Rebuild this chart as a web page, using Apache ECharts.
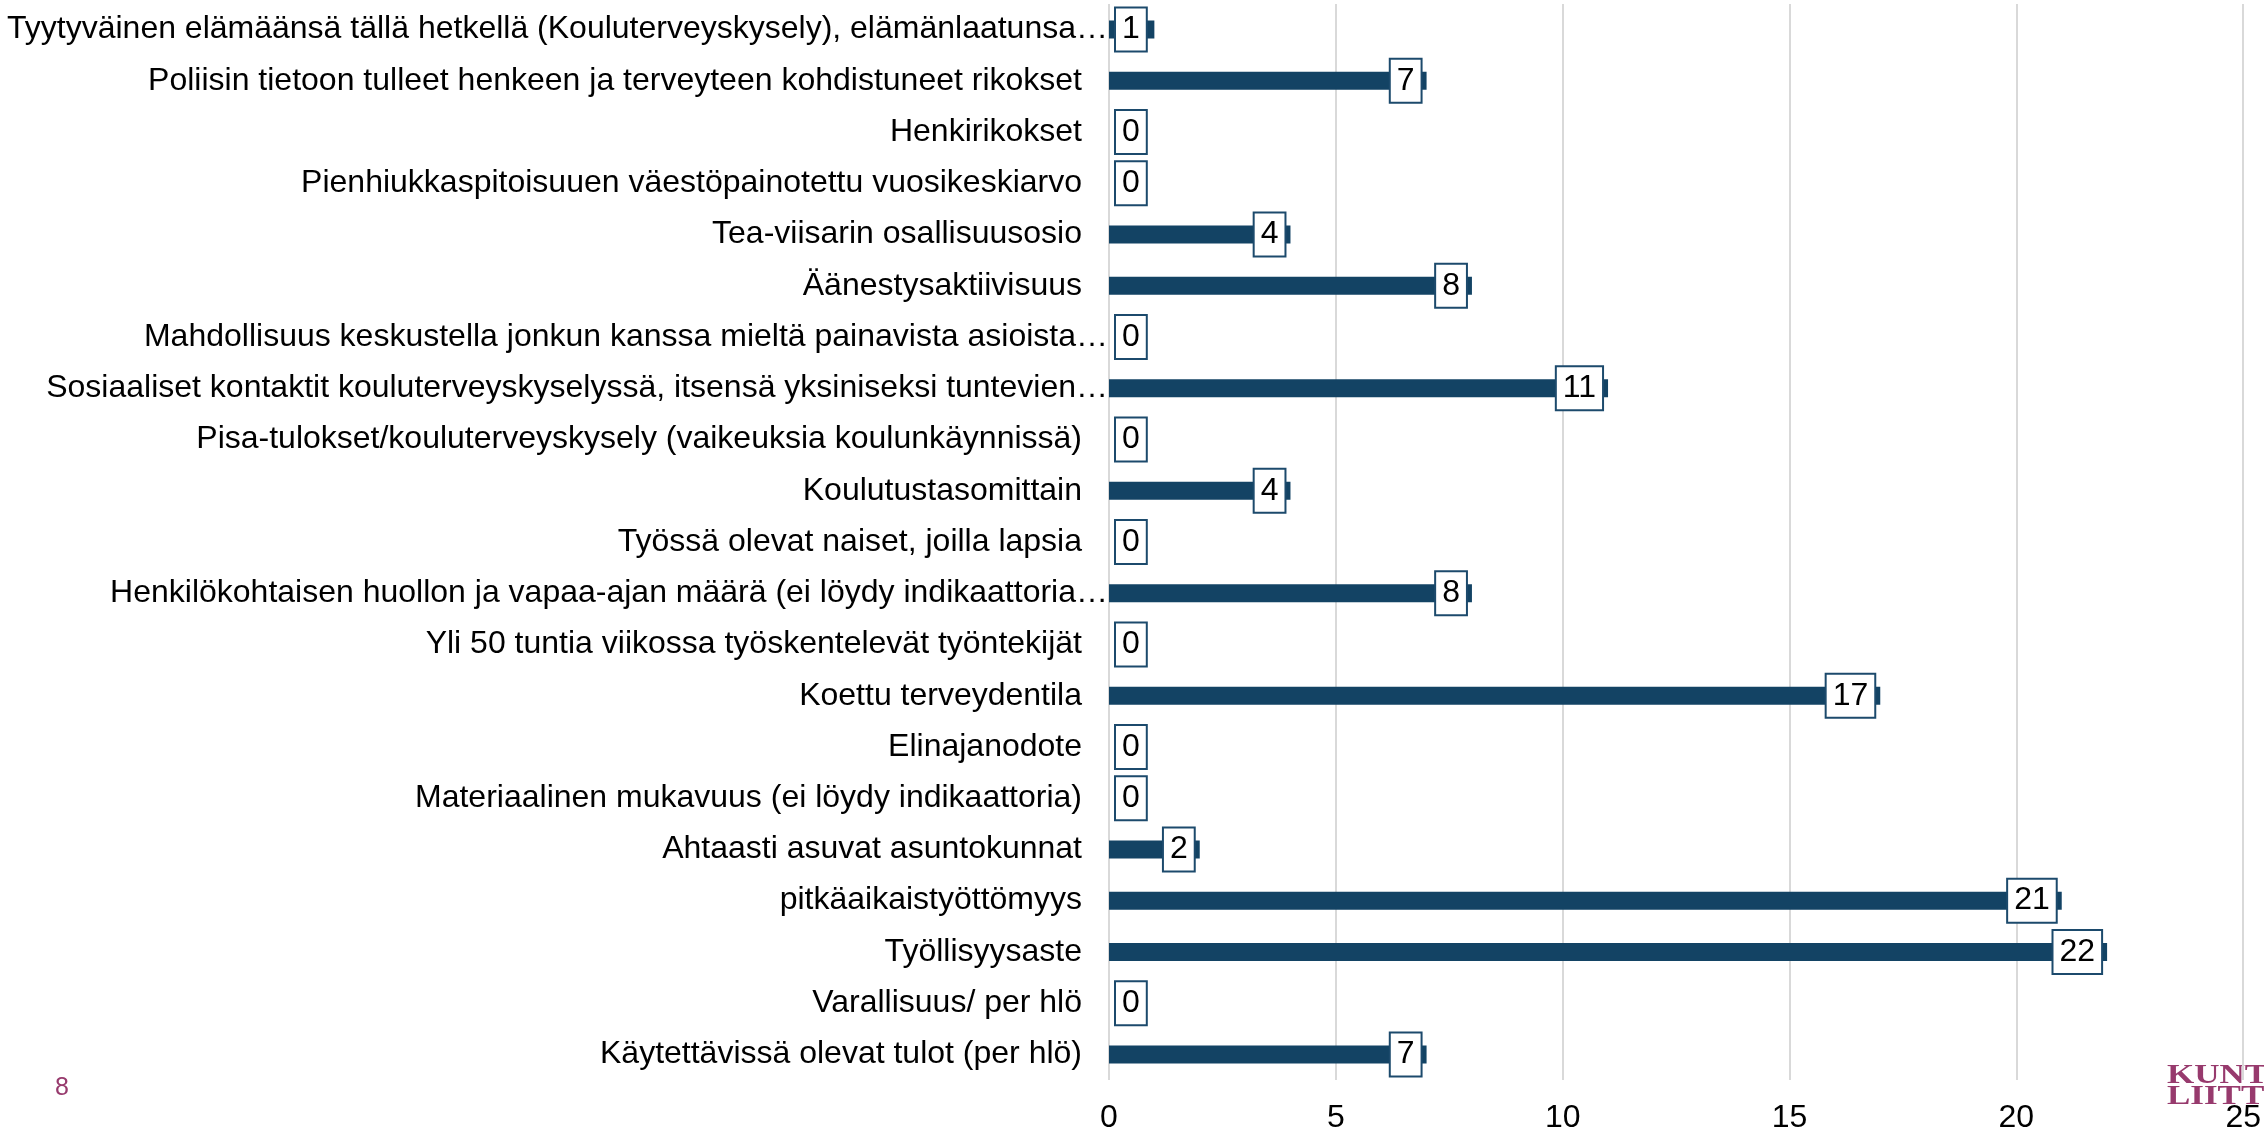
<!DOCTYPE html>
<html>
<head>
<meta charset="utf-8">
<script src="https://cdn.jsdelivr.net/npm/echarts@6/dist/echarts.min.js"></script>
<style>
html,body{margin:0;padding:0;background:#fff;}
#chart{width:2264px;height:1134px;}
</style>
</head>
<body>
<div id="chart"></div>
<script>
const categories = [
  "Tyytyväinen elämäänsä tällä hetkellä (Kouluterveyskysely), elämänlaatunsa…",
  "Poliisin tietoon tulleet henkeen ja terveyteen kohdistuneet rikokset",
  "Henkirikokset",
  "Pienhiukkaspitoisuuen väestöpainotettu vuosikeskiarvo",
  "Tea-viisarin osallisuusosio",
  "Äänestysaktiivisuus",
  "Mahdollisuus keskustella jonkun kanssa mieltä painavista asioista…",
  "Sosiaaliset kontaktit kouluterveyskyselyssä, itsensä yksiniseksi tuntevien…",
  "Pisa-tulokset/kouluterveyskysely (vaikeuksia koulunkäynnissä)",
  "Koulutustasomittain",
  "Työssä olevat naiset, joilla lapsia",
  "Henkilökohtaisen huollon ja vapaa-ajan määrä (ei löydy indikaattoria…",
  "Yli 50 tuntia viikossa työskentelevät työntekijät",
  "Koettu terveydentila",
  "Elinajanodote",
  "Materiaalinen mukavuus (ei löydy indikaattoria)",
  "Ahtaasti asuvat asuntokunnat",
  "pitkäaikaistyöttömyys",
  "Työllisyysaste",
  "Varallisuus/ per hlö",
  "Käytettävissä olevat tulot (per hlö)"
];
const values = [1, 7, 0, 0, 4, 8, 0, 11, 0, 4, 0, 8, 0, 17, 0, 0, 2, 21, 22, 0, 7];
const xTicks = [0, 5, 10, 15, 20, 25];
const pageNumber = "8";
const logoLines = ["KUNTA-", "LIITTO"];

const chart = echarts.init(document.getElementById('chart'));
const font = '"Liberation Sans", Arial, sans-serif';
const magenta = '#973a6d';

chart.setOption({
  animation: false,
  backgroundColor: '#ffffff',
  grid: { left: 1109, right: 16, top: 4, bottom: 52, containLabel: false },
  xAxis: {
    type: 'value',
    min: xTicks[0],
    max: xTicks[xTicks.length - 1],
    interval: 5,
    axisLine: { show: false },
    axisTick: { show: false },
    splitLine: { show: true, lineStyle: { color: '#d9d9d9', width: 2 } },
    axisLabel: { fontFamily: font, fontSize: 32, color: '#000', margin: 22 }
  },
  yAxis: {
    type: 'category',
    inverse: true,
    data: categories.map(c => c.endsWith('…')
      ? { value: c, textStyle: { padding: [0, -26, 0, 0] } }
      : c),
    axisLine: { show: false },
    axisTick: { show: false },
    axisLabel: { fontFamily: font, fontSize: 32, color: '#000', margin: 27 }
  },
  series: [{
    type: 'bar',
    barWidth: 18,
    itemStyle: { color: '#134364' },
    data: values.map(v => ({
      value: v,
      label: { position: v <= 1 ? 'insideLeft' : 'insideRight', distance: v <= 1 ? 7 : 6 }
    })),
    label: {
      show: true,
      fontFamily: font,
      fontSize: 32,
      lineHeight: 32,
      color: '#000',
      backgroundColor: '#ffffff',
      borderColor: '#1c4a6c',
      borderWidth: 2,
      padding: [5, 6, 5, 6]
    }
  }],
  graphic: [
    { type: 'text', left: 55, top: 1076,
      style: { text: pageNumber, fill: magenta, font: '25px "Liberation Sans", Arial, sans-serif' } },
    { type: 'text', x: 2167, y: 1065, scaleX: 1.25,
      style: { text: logoLines.join('\n'), fill: magenta, font: 'bold 28px "Liberation Serif", "Times New Roman", serif', lineHeight: 21 } }
  ]
});
</script>
</body>
</html>
